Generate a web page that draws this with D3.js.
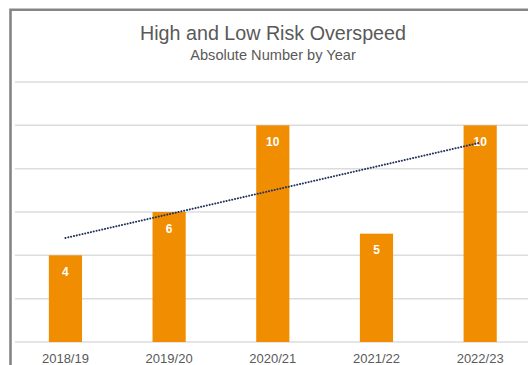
<!DOCTYPE html>
<html><head><meta charset="utf-8">
<script src="https://cdn.jsdelivr.net/npm/d3@7"></script>
<style>html,body{margin:0;padding:0;background:#fff;overflow:hidden}</style>
</head><body>
<svg id="c" width="528" height="365"></svg>
<script>
const categories = ["2018/19","2019/20","2020/21","2021/22","2022/23"];
const values = [4, 6, 10, 5, 10];
const yTicks = [0, 2, 4, 6, 8, 10, 12];
const title = "High and Low Risk Overspeed";
const subtitle = "Absolute Number by Year";

const svg = d3.select("#c");
const W = 528, H = 365;
const plot = {left: 13.6, right: 532, top: 82, bottom: 342};

svg.append("rect").attr("width", W).attr("height", H).attr("fill", "#fff");
// outer frame (cropped)
svg.append("path").attr("d", `M10.5,${H+5} V9.8 H${W+5}`)
  .attr("fill", "none").attr("stroke", "#858585").attr("stroke-width", 2.6);

const x = d3.scaleBand().domain(categories).range([plot.left, plot.right]).paddingInner(0.68).paddingOuter(0.34);
const y = d3.scaleLinear().domain([0, 12]).range([plot.bottom, plot.top]);

// gridlines
svg.append("g").selectAll("line").data(yTicks).join("line")
  .attr("x1", 15).attr("x2", W).attr("y1", d => y(d)).attr("y2", d => y(d))
  .attr("stroke", "#dcdcdc").attr("stroke-width", 1.5);

// bars
svg.append("g").selectAll("rect").data(values).join("rect")
  .attr("x", (d, i) => x(categories[i])).attr("width", x.bandwidth())
  .attr("y", d => y(d)).attr("height", d => y(0) - y(d))
  .attr("fill", "#F08D00");

// value labels
svg.append("g").selectAll("text").data(values).join("text")
  .attr("x", (d, i) => x(categories[i]) + x.bandwidth() / 2)
  .attr("y", d => y(d) + 20.5)
  .attr("text-anchor", "middle").attr("fill", "#fff")
  .attr("font-family", "Liberation Sans, Arial, sans-serif").attr("font-weight", "bold").attr("font-size", 12)
  .text(d => d);

// trendline (linear regression)
const n = values.length;
const mx = d3.mean(values, (d, i) => i), my = d3.mean(values);
const slope = d3.sum(values, (d, i) => (i - mx) * (d - my)) / d3.sum(values, (d, i) => (i - mx) ** 2);
const intercept = my - slope * mx;
const cx = i => x(categories[i]) + x.bandwidth() / 2;
svg.append("line")
  .attr("x1", cx(0)).attr("y1", y(intercept))
  .attr("x2", cx(n - 1)).attr("y2", y(intercept + slope * (n - 1)))
  .attr("stroke", "#22335e").attr("stroke-width", 2)
  .attr("stroke-dasharray", "0.1 2.8").attr("stroke-linecap", "round");

// x axis labels
const xAxis = d3.axisBottom(x).tickSize(0).tickPadding(0);
const gx = svg.append("g").attr("transform", `translate(0,${plot.bottom})`).call(xAxis);
gx.select(".domain").remove();
gx.selectAll("text").attr("dy", null).attr("y", 20.5)
  .attr("font-family", "Liberation Sans, Arial, sans-serif").attr("font-size", 13).attr("fill", "#595959");

// titles
svg.append("text").attr("x", 273).attr("y", 40).attr("text-anchor", "middle")
  .attr("font-family", "Liberation Sans, Arial, sans-serif").attr("font-size", 19.7).attr("fill", "#595959")
  .text(title);
svg.append("text").attr("x", 273).attr("y", 60).attr("text-anchor", "middle")
  .attr("font-family", "Liberation Sans, Arial, sans-serif").attr("font-size", 14.6).attr("fill", "#595959")
  .text(subtitle);
</script>
</body></html>
